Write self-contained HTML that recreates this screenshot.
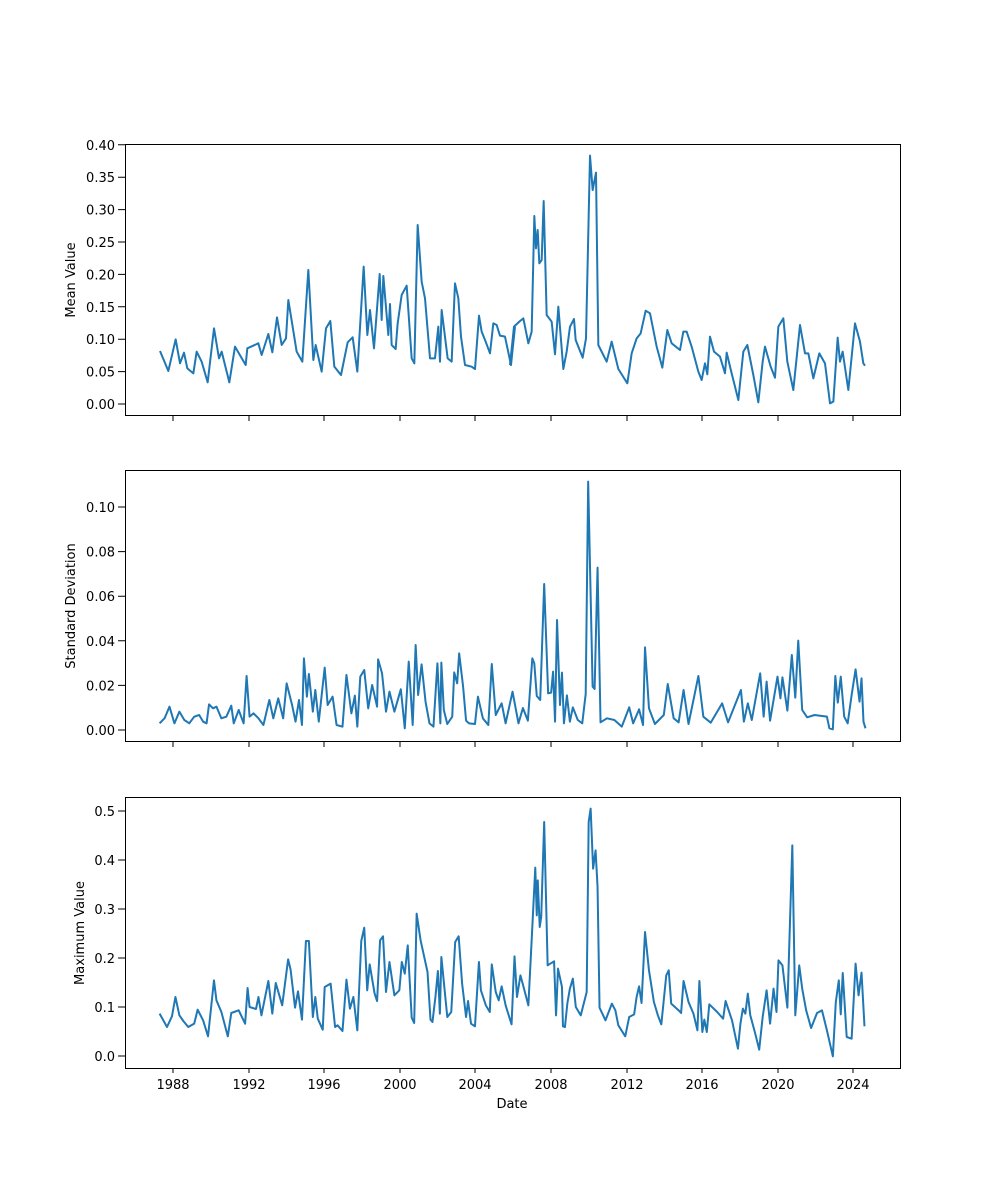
<!DOCTYPE html>
<html><head><meta charset="utf-8"><style>
html,body{margin:0;padding:0;background:#fff;}
svg{display:block;}
text{font-family:"DejaVu Sans","Liberation Sans",sans-serif;font-size:13px;fill:#000;}
.ln{fill:none;stroke:#1f77b4;stroke-width:2;stroke-linejoin:round;vector-effect:non-scaling-stroke;}
.ax{fill:none;stroke:#000;stroke-width:1;}
</style></head><body>
<svg width="1000" height="1200" viewBox="0 0 1000 1200" xmlns="http://www.w3.org/2000/svg">
<rect width="1000" height="1200" fill="#fff"/>

<!-- Panel 1 -->
<g transform="translate(125,145) scale(0.33333)">
<polyline class="ln" points="105,618 130,678 152,583 165,655 177,623 187,670 205,685 215,620 230,650 248,712 267,550 282,640 290,620 313,712 330,605 362,660 367,610 400,595 410,630 430,567 442,622 456,517 470,600 483,580 490,465 515,620 532,650 550,375 565,645 572,600 590,680 603,550 616,528 628,665 648,690 668,592 683,577 697,680 716,365 727,570 735,495 747,610 764,387 770,525 775,393 790,570 795,477 800,600 812,612 818,535 830,450 845,422 860,640 868,655 878,240 890,410 900,460 915,640 930,640 940,545 945,650 950,495 968,640 980,650 990,415 1000,460 1008,575 1020,660 1040,665 1050,672 1062,512 1070,560 1082,590 1095,625 1105,535 1115,540 1125,572 1140,575 1158,660 1170,545"/>
</g>
<g transform="translate(510,145) scale(0.33333)">
<polyline class="ln" points="0,660 12,545 28,530 40,520 55,595 65,560 73,213 78,310 83,255 88,355 95,345 101,168 110,510 125,530 135,628 145,485 160,672 170,620 180,545 192,522 197,585 218,638 228,580 240,32 248,135 258,83 265,600 290,650 305,590 325,672 352,715 365,625 380,580 392,565 407,497 420,505 440,605 457,668 472,555 485,595 510,615 520,560 530,560 545,605 565,680 575,705 585,655 592,688 600,575 612,620 630,635 645,685 650,623 665,685 685,765 700,620 712,600 730,690 745,772 758,650 765,605 782,665 795,698 805,545 820,520 832,650 850,735 870,540 885,625 895,625 910,700 928,625 945,655 960,775 970,770 983,578 990,650 998,620 1015,735 1035,535 1050,590 1060,655 1065,662"/>
</g>
<rect class="ax" x="125.5" y="144.5" width="775" height="271"/>
<g class="ax">
<path d="M118,404H125M118,371.6H125M118,339.2H125M118,306.8H125M118,274.4H125M118,242H125M118,209.6H125M118,177.2H125M118,144.8H125"/>
<path d="M173,416v5M249,416v5M324,416v5M400,416v5M475,416v5M551,416v5M627,416v5M702,416v5M778,416v5M853,416v5"/>
</g>
<g text-anchor="end">
<text x="115" y="409">0.00</text><text x="115" y="376.6">0.05</text><text x="115" y="344.2">0.10</text><text x="115" y="311.8">0.15</text><text x="115" y="279.4">0.20</text><text x="115" y="247">0.25</text><text x="115" y="214.6">0.30</text><text x="115" y="182.2">0.35</text><text x="115" y="149.8">0.40</text>
</g>
<text transform="translate(75,280) rotate(-90)" text-anchor="middle">Mean Value</text>

<!-- Panel 2 -->
<g transform="translate(125,470) scale(0.49431,0.33333)">
<polyline class="ln" points="70,760 80,745 90,710 100,760 110,725 120,750 130,760 140,740 150,735 158,755 165,760 170,703 178,715 185,710 195,745 205,740 215,707 220,760 230,720 240,760 246,618 252,740 260,730 270,745 280,765 292,690 300,745 310,685 320,745 327,640 338,705 345,755 352,690 358,765 362,565 368,680 372,612 380,725 385,660 392,755 404,593 410,705 420,680 428,765 440,770 448,615 458,730 465,677 470,770 476,620 484,600 492,715 500,645 510,710 512,568 520,610 528,725 535,665 545,725 558,658 566,775 574,575 582,765 588,525 593,675 600,583 608,695 616,760 624,770 632,580 638,760 640,578 645,720 652,762 662,740 666,607 672,640 676,550 684,650 690,752 696,760 708,762 714,680 724,745 735,765 742,582 750,735 762,700 770,760 784,665 796,760 805,714 815,752 824,565 828,580 833,678 840,690 848,342 856,670 862,668 866,605 870,755 874,450 880,705 884,608 888,760 894,676 900,755 906,712 916,750 925,760 932,672 937,35 946,650 950,657 956,293 962,757 975,745 990,750 1005,770 1020,712 1028,760 1040,718 1048,765 1052,532 1060,715 1072,762 1090,735 1098,642 1110,745 1120,757 1130,660 1140,762 1160,618 1170,740 1185,758 1208,700 1220,757 1246,660 1252,755 1260,700 1268,750 1285,610 1292,740 1298,635 1305,752 1320,620 1326,685 1330,622 1340,722 1349,555 1356,683 1362,512 1370,720 1380,742 1395,735 1420,740 1425,775 1432,778 1437,618 1442,698 1448,620 1455,740 1462,760 1470,675 1478,598 1486,695 1490,625 1494,755 1498,775"/>
</g>
<rect class="ax" x="125.5" y="470.5" width="775" height="271"/>
<g class="ax">
<path d="M118,730H125M118,685.4H125M118,640.8H125M118,596.2H125M118,551.6H125M118,507H125"/>
<path d="M173,742v5M249,742v5M324,742v5M400,742v5M475,742v5M551,742v5M627,742v5M702,742v5M778,742v5M853,742v5"/>
</g>
<g text-anchor="end">
<text x="115" y="735">0.00</text><text x="115" y="690.4">0.02</text><text x="115" y="645.8">0.04</text><text x="115" y="601.2">0.06</text><text x="115" y="556.6">0.08</text><text x="115" y="512">0.10</text>
</g>
<text transform="translate(75,606) rotate(-90)" text-anchor="middle">Standard Deviation</text>

<!-- Panel 3 -->
<g transform="translate(125,797) scale(0.49431,0.33333)">
<polyline class="ln" points="70,650 85,690 95,658 102,600 110,655 118,672 128,690 140,680 147,638 158,670 168,718 180,550 185,610 195,645 208,718 215,648 230,640 243,680 248,573 252,630 265,636 270,600 276,655 290,552 298,650 305,558 318,625 330,487 335,518 344,632 350,583 358,668 366,432 372,432 380,660 385,600 390,665 400,698 404,570 416,560 425,690 430,685 440,702 448,548 455,635 462,600 470,700 478,432 484,392 490,580 495,502 505,590 510,612 516,430 522,418 528,585 535,495 545,595 555,580 560,495 566,530 572,445 580,662 585,678 590,350 598,430 612,525 618,668 622,675 628,600 633,522 637,650 640,480 652,660 660,645 668,435 675,418 682,560 690,660 694,612 700,680 708,688 716,495 720,580 730,625 738,645 742,502 750,585 756,610 762,568 770,625 782,682 788,478 793,600 800,535 806,568 816,625 823,420 830,212 833,355 835,250 839,390 842,360 848,75 855,505 868,493 872,655 876,515 884,570 886,688 890,690 895,618 900,575 906,545 912,630 922,655 934,585 938,75 942,35 947,215 952,160 956,270 960,632 972,670 985,620 992,640 998,685 1012,718 1020,660 1030,652 1035,600 1040,568 1045,618 1052,405 1060,520 1070,615 1078,655 1085,682 1095,535 1100,520 1105,620 1120,640 1125,648 1130,552 1140,615 1150,650 1158,700 1162,552 1168,705 1172,668 1177,705 1182,622 1198,645 1210,665 1215,612 1228,670 1240,755 1245,680 1250,635 1255,650 1260,590 1265,655 1275,710 1283,758 1290,660 1298,580 1305,680 1312,575 1318,645 1322,490 1330,505 1340,632 1350,145 1356,655 1364,505 1370,575 1378,640 1388,693 1400,648 1410,640 1420,700 1432,778 1438,615 1444,550 1448,652 1452,528 1460,720 1470,725 1478,500 1484,595 1490,527 1496,688"/>
</g>
<rect class="ax" x="125.5" y="797.5" width="775" height="271"/>
<g class="ax">
<path d="M118,1056H125M118,1007H125M118,958H125M118,909H125M118,860H125M118,811H125"/>
<path d="M173,1068v5M249,1068v5M324,1068v5M400,1068v5M475,1068v5M551,1068v5M627,1068v5M702,1068v5M778,1068v5M853,1068v5"/>
</g>
<g text-anchor="end">
<text x="115" y="1061">0.0</text><text x="115" y="1012">0.1</text><text x="115" y="963">0.2</text><text x="115" y="914">0.3</text><text x="115" y="865">0.4</text><text x="115" y="816">0.5</text>
</g>
<g text-anchor="middle">
<text x="173" y="1089">1988</text><text x="249" y="1089">1992</text><text x="324" y="1089">1996</text><text x="400" y="1089">2000</text><text x="475" y="1089">2004</text><text x="551" y="1089">2008</text><text x="627" y="1089">2012</text><text x="702" y="1089">2016</text><text x="778" y="1089">2020</text><text x="853" y="1089">2024</text>
<text x="512" y="1108">Date</text>
</g>
<text transform="translate(84,933) rotate(-90)" text-anchor="middle">Maximum Value</text>
</svg>
</body></html>
